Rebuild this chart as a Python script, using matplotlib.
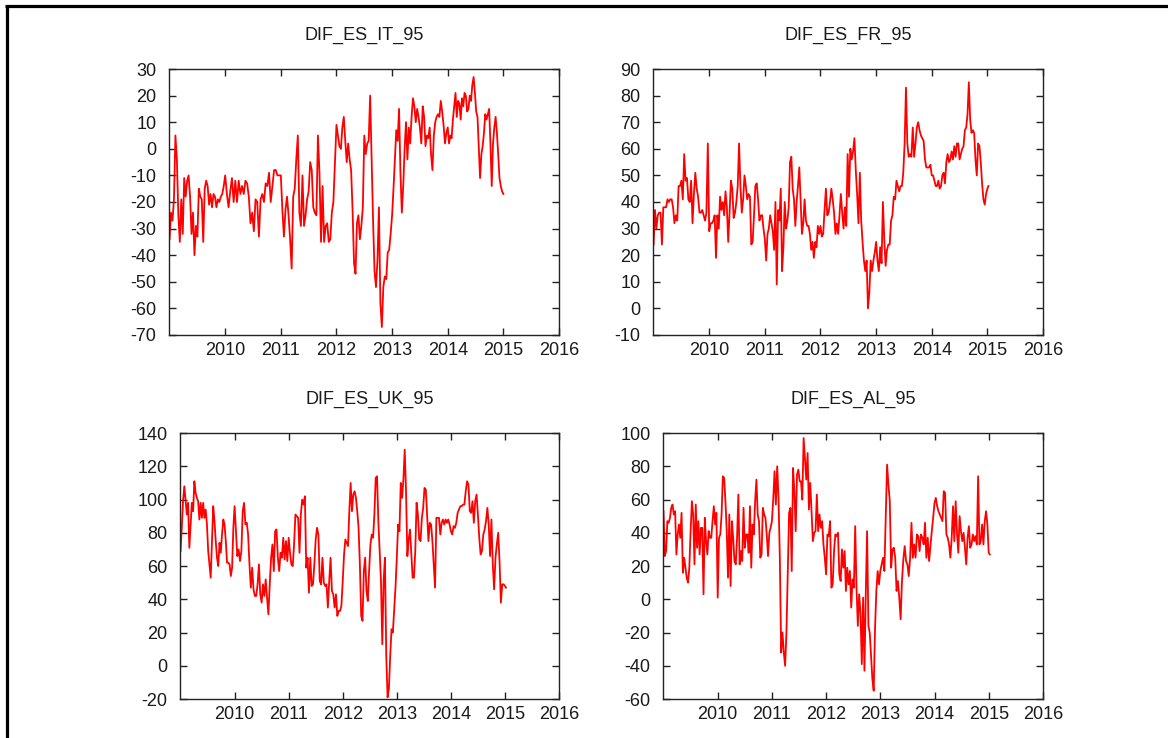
# graficos_dif.py — diferenciales semanales respecto a España (percentil 95)

import numpy as np
import matplotlib
matplotlib.use("Agg")
import matplotlib.pyplot as plt
from matplotlib.lines import Line2D

plt.rcParams['font.family'] = ['Liberation Sans', 'DejaVu Sans']
plt.rcParams['font.size'] = 13
plt.rcParams['axes.unicode_minus'] = False

# ── Datos: un bloque de observaciones por año (2009 ... 2015) ────────────────
it_vals = [
    [-34, -24, -27, -19, 5, -4, -25, -35, -19, -32, -11, -18, -12, -10, -18, -32, -24, -40, -29,
     -33, -15, -18, -19, -35, -15, -12, -14, -21, -17, -22, -17, -18, -22, -19, -20, -18, -17, -14],
    [-10, -17, -22, -16, -11, -20, -12, -20, -12, -17, -14, -17, -12, -13, -18, -28, -24, -31, -19,
     -20, -33, -19, -17, -20, -13, -14, -9, -20, -14, -8, -8, -10, -10],
    [-10, -23, -33, -23, -18, -25, -34, -45, -18, -15, -4, 5, -24, -29, -10, -29, -25, -19, -16, -5,
     -8, -22, -24, -25, 5, -9, -35, -14, -35, -29, -28, -35, -34, -24, -20, -5],
    [9, 5, 1, 0, 8, 12, 3, -5, 2, -4, -8, -23, -43, -47, -28, -25, -34, -29, -22, 5, -2, 2, 3, 20,
     -4, -27, -46, -52, -42, -22, -58, -67, -52, -48, -49, -39, -38, -32],
    [-25, -15, -4, 7, 3, 15, -9, -24, -14, 0, 10, -4, 8, 2, 12, 19, 16, 10, 15, 12, 8, 2, 16, 12,
     1, 5, 4, 8, -2, -8, 5, 10, 12, 13, 12, 18, 14, 9, 2, 6],
    [8, 2, 5, 4, 11, 16, 21, 12, 18, 17, 11, 19, 16, 21, 20, 14, 15, 20, 18, 24, 27, 21, 14, 12, 0,
     -11, -2, 1, 6, 13, 11, 13, 15, 2, -14, 2, 8, 12, 6, -2, -11, -14, -16],
    [-17],
]

fr_vals = [
    [24, 37, 30, 35, 36, 36, 24, 38, 38, 38, 41, 40, 41, 41, 38, 32, 35, 33, 46, 46, 48, 41, 58,
     48, 49, 41, 40, 48, 32, 43, 51, 45, 42, 36, 36, 37, 35, 33, 36, 62],
    [29, 32, 32, 33, 35, 19, 35, 30, 42, 37, 40, 35, 44, 38, 25, 36, 48, 45, 34, 36, 40, 46, 62,
     46, 36, 41, 50, 46, 41, 43, 42, 24, 25, 35, 46, 47, 41, 33, 35, 35, 30],
    [26, 18, 28, 30, 35, 32, 29, 22, 40, 9, 37, 33, 45, 14, 23, 40, 30, 33, 38, 55, 57, 45, 41, 31,
     40, 46, 53, 40, 28, 32, 41, 33, 31, 31, 28, 22, 25, 19, 25, 23, 31, 28],
    [31, 27, 28, 37, 45, 35, 36, 40, 45, 41, 36, 28, 32, 28, 35, 43, 36, 30, 38, 31, 58, 42, 60,
     56, 59, 64, 52, 43, 32, 51, 33, 25, 18, 14, 18, 0, 6, 18, 14, 18, 21],
    [25, 18, 14, 23, 17, 40, 26, 16, 22, 24, 24, 33, 35, 42, 41, 48, 46, 44, 46, 46, 51, 62, 83,
     62, 57, 58, 57, 68, 57, 62, 68, 70, 67, 65, 64, 63, 56, 53, 53, 53, 54],
    [50, 50, 48, 46, 46, 48, 45, 46, 50, 51, 47, 55, 58, 55, 56, 59, 56, 61, 57, 62, 62, 56, 58,
     60, 61, 67, 68, 73, 85, 71, 66, 67, 66, 56, 50, 62, 61, 55, 47, 41, 39, 43],
    [45, 46],
]

uk_vals = [
    [69, 83, 99, 108, 100, 91, 98, 71, 85, 98, 93, 111, 104, 101, 99, 88, 98, 89, 98, 89, 94, 85,
     69, 61, 53, 75, 96, 87, 75, 65, 60, 74, 68, 79, 88, 85, 75, 62, 62, 61, 54, 59, 83],
    [96, 81, 66, 70, 63, 69, 93, 98, 85, 86, 79, 61, 47, 59, 46, 42, 42, 49, 61, 43, 38, 49, 42,
     52, 41, 31, 49, 65, 73, 57, 81, 82, 65, 57, 68, 65, 77, 64, 75, 63],
    [77, 68, 61, 60, 73, 91, 90, 89, 68, 91, 100, 97, 102, 59, 65, 44, 65, 48, 49, 61, 76, 83, 79,
     51, 49, 65, 50, 48, 49, 35, 51, 65, 45, 43, 35, 43, 30, 33, 33, 36],
    [51, 67, 76, 74, 72, 93, 110, 93, 103, 105, 101, 93, 83, 61, 30, 27, 57, 65, 45, 39, 57, 73,
     79, 77, 91, 113, 114, 87, 69, 51, 13, 51, 65, 6, -19, -14, 6, 22, 20, 33, 47],
    [65, 85, 81, 110, 101, 112, 130, 105, 66, 76, 82, 67, 53, 53, 69, 98, 91, 76, 75, 89, 95, 107,
     106, 91, 75, 86, 85, 75, 61, 47, 89, 89, 89, 79, 86, 88, 85, 88, 86, 88, 85],
    [81, 79, 84, 83, 86, 92, 94, 96, 96, 97, 97, 105, 111, 109, 93, 92, 99, 86, 99, 103, 91, 77,
     67, 69, 79, 82, 87, 95, 85, 66, 88, 61, 46, 65, 73, 80, 63, 38, 49, 49],
    [48, 47],
]

al_vals = [
    [53, 26, 29, 47, 46, 49, 55, 57, 51, 53, 27, 39, 45, 37, 52, 16, 25, 19, 13, 10, 19, 41, 59,
     51, 21, 57, 31, 47, 27, 43, 43, 3, 49, 35, 27, 41, 37, 37, 47, 56, 45, 52],
    [1, 37, 39, 51, 74, 73, 59, 41, 13, 51, 8, 47, 37, 23, 21, 37, 63, 21, 29, 23, 55, 31, 39, 39,
     28, 56, 19, 45, 39, 59, 72, 51, 47, 25, 27, 55, 51, 49, 39, 26, 40, 43],
    [47, 60, 77, 57, 80, 61, 25, -32, -20, -32, -40, -20, 17, 52, 55, 17, 79, 65, 41, 75, 78, 71,
     71, 60, 97, 85, 72, 88, 54, 70, 52, 35, 40, 41, 63, 41, 51, 43, 47, 33, 25],
    [15, 39, 38, 47, 7, 9, 29, 39, 38, 40, 15, 11, 30, 19, 29, 5, 19, 9, 17, -5, 12, 7, 44, 7, -16,
     3, -8, -39, 1, -43, 3, 41, -16, -20, -34, -48, -55, -18, 5, 17, 9],
    [17, 21, 25, 17, 49, 81, 69, 59, 19, 30, 31, 25, 5, 11, 1, -12, 11, 24, 32, 23, 21, 14, 25, 46,
     25, 33, 25, 39, 38, 29, 39, 37, 33, 46, 25, 37, 23, 32, 41, 49],
    [58, 61, 56, 53, 51, 49, 47, 65, 64, 39, 37, 33, 25, 37, 56, 35, 59, 40, 28, 50, 41, 35, 40,
     31, 21, 37, 44, 31, 33, 39, 35, 38, 33, 74, 33, 35, 45, 33, 47, 53, 45],
    [28, 27],
]

titulos = ['DIF_ES_IT_95', 'DIF_ES_FR_95', 'DIF_ES_UK_95', 'DIF_ES_AL_95']
anio_inicio = 2009
anios_x = [2010, 2011, 2012, 2013, 2014, 2015, 2016]
limites_y = [(-70, 30, 10), (-10, 90, 10), (-20, 140, 20), (-60, 100, 20)]

# Posición de cada panel en la figura (fracciones)
posiciones = [
    [0.1447, 0.5461, 0.3339, 0.3604],
    [0.5591, 0.5461, 0.3339, 0.3604],
    [0.1541, 0.0528, 0.3245, 0.3604],
    [0.5676, 0.0528, 0.3253, 0.3604],
]


def serie_semanal(bloques):
    """Reparte cada bloque anual de forma uniforme dentro de su año."""
    t, v = [], []
    for k, b in enumerate(bloques):
        n = len(b)
        paso = 1.0 / n if k < len(bloques) - 1 else 1.0 / 52
        t.extend(anio_inicio + k + np.arange(n) * paso)
        v.extend(b)
    return np.array(t), np.array(v, dtype=float)


fig = plt.figure(figsize=(11.68, 7.38), dpi=100)

for bloques, titulo, pos, (ymin, ymax, paso) in zip(
        [it_vals, fr_vals, uk_vals, al_vals], titulos, posiciones, limites_y):
    t, v = serie_semanal(bloques)
    ax = fig.add_axes(pos)
    ax.plot(t, v, color='#ff0000', linewidth=1.3)
    ax.set_xlim(2008.99, 2016)
    ax.set_ylim(ymin, ymax)
    ax.set_xticks(anios_x)
    ax.set_xticklabels([str(a) for a in anios_x])
    ax.set_yticks(np.arange(ymin, ymax + 1, paso))
    ax.tick_params(direction='in', top=True, right=True, length=5, width=1,
                   color='#222222', labelcolor='#1a1a1a', labelsize=13)
    ax.tick_params(axis='x', pad=5)
    ax.tick_params(axis='y', pad=9)
    for s in ax.spines.values():
        s.set_color('#222222')
        s.set_linewidth(1)
    ax.set_title(titulo, fontsize=13, color='#1a1a1a', pad=21)

# Marco negro (izquierda y arriba)
fig.add_artist(Line2D([0.0056, 0.0056], [0.0, 0.9918], transform=fig.transFigure,
                      color='black', linewidth=2.3, solid_capstyle='butt'))
fig.add_artist(Line2D([0.0043, 1.0], [0.9918, 0.9918], transform=fig.transFigure,
                      color='black', linewidth=2.3, solid_capstyle='butt'))

fig.savefig('out.png', dpi=100)
